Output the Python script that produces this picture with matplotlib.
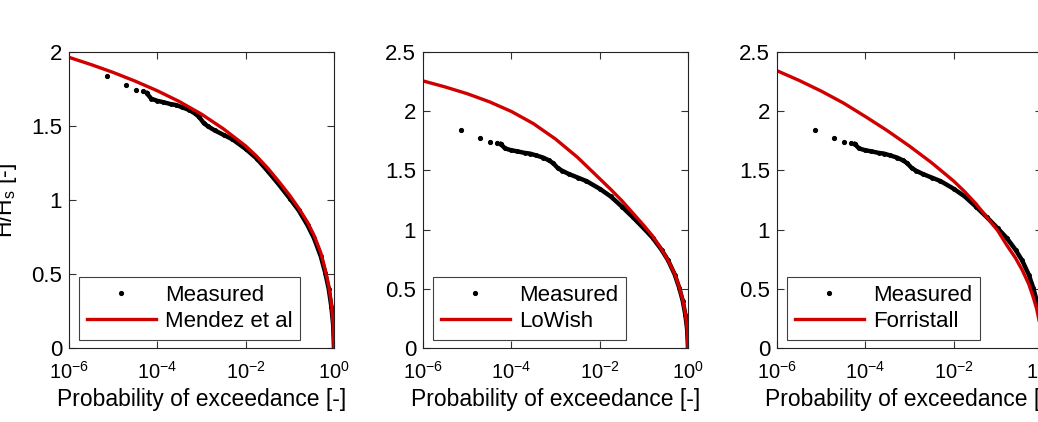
import numpy as np
import matplotlib
matplotlib.use('Agg')
import matplotlib.pyplot as plt
from matplotlib.ticker import FixedLocator, NullLocator, FuncFormatter

plt.rcParams['font.family'] = ['Liberation Sans', 'DejaVu Sans']
plt.rcParams['mathtext.fontset'] = 'custom'
plt.rcParams['mathtext.rm'] = 'Liberation Sans'
plt.rcParams['mathtext.it'] = 'Liberation Sans'

# measured wave heights (same data in every panel), x given as log10(P)
meas_logp = [-5.15, -4.70, -4.49, -4.33, -4.24,
             -4.14, -4.00, -3.88, -3.70, -3.58, -3.45, -3.28, -3.15, -3.05,
             -2.95, -2.85, -2.70, -2.50, -2.30, -2.00, -1.75, -1.50, -1.25,
             -1.00, -0.80, -0.60, -0.45, -0.30, -0.20, -0.12, -0.06, -0.02,
             0.0]
meas_h = [1.838, 1.775, 1.742, 1.735, 1.722,
          1.685, 1.670, 1.662, 1.648, 1.642, 1.628, 1.608, 1.585, 1.560,
          1.520, 1.497, 1.470, 1.440, 1.410, 1.345, 1.280, 1.195, 1.105,
          1.010, 0.930, 0.830, 0.740, 0.620, 0.510, 0.400, 0.280, 0.160,
          0.0]
n_sparse = 5

# model curves
model_logp = [-6.0, -5.5, -5.0, -4.5, -4.0, -3.5, -3.0, -2.5, -2.0, -1.75,
              -1.5, -1.25, -1.0, -0.8, -0.6, -0.45, -0.3, -0.2, -0.12,
              -0.06, -0.02, 0.0]
mendez_h = [1.964, 1.915, 1.862, 1.803, 1.738, 1.665, 1.580, 1.480, 1.365,
            1.295, 1.215, 1.125, 1.030, 0.945, 0.850, 0.760, 0.645, 0.530,
            0.420, 0.300, 0.170, 0.0]
lowish_h = [2.256, 2.205, 2.148, 2.080, 1.998, 1.895, 1.765, 1.610, 1.430,
            1.340, 1.245, 1.140, 1.035, 0.945, 0.835, 0.740, 0.625, 0.515,
            0.410, 0.290, 0.165, 0.0]
forr_h = [2.342, 2.260, 2.170, 2.070, 1.955, 1.835, 1.705, 1.565, 1.410,
          1.320, 1.220, 1.105, 0.990, 0.870, 0.760, 0.660, 0.540, 0.430,
          0.330, 0.220, 0.120, 0.0]

names = ['Mendez et al', 'LoWish', 'Forristall']
models = [mendez_h, lowish_h, forr_h]
ytops = [2.0, 2.5, 2.5]
yticks = [[0, 0.5, 1, 1.5, 2], [0, 0.5, 1, 1.5, 2, 2.5], [0, 0.5, 1, 1.5, 2, 2.5]]
xticks = [1e-6, 1e-4, 1e-2, 1e0]

meas_p = 10.0 ** np.array(meas_logp)
model_p = 10.0 ** np.array(model_logp)

red = '#d00000'

fig = plt.figure(figsize=(10.38, 4.22), dpi=100)
lefts = [69, 423, 777]

for i in range(3):
    ax = fig.add_axes([lefts[i] / 1038, 74 / 422, 265 / 1038, 296 / 422])
    ax.set_xscale('log')

    # measured: sparse tail points + dense body
    ax.plot(meas_p[:n_sparse], meas_h[:n_sparse], '.', color='k', ms=5.5,
            label='Measured')
    ax.plot(meas_p[n_sparse - 1:], meas_h[n_sparse - 1:], '-', color='k',
            lw=3.2, marker='.', ms=5)
    # model
    ax.plot(model_p, models[i], '-', color=red, lw=2.4, label=names[i])

    ax.set_xlim(1e-6, 1)
    ax.set_ylim(0, ytops[i])
    ax.xaxis.set_major_locator(FixedLocator(xticks))
    ax.xaxis.set_minor_locator(NullLocator())
    ax.xaxis.set_major_formatter(FuncFormatter(
        lambda v, pos: '$10^{%d}$' % int(round(np.log10(v)))))
    ax.yaxis.set_major_locator(FixedLocator(yticks[i]))
    ax.yaxis.set_major_formatter(FuncFormatter(lambda v, pos: '%g' % v))
    ax.tick_params(which='both', direction='in', top=True, right=True,
                   length=5, width=0.8, color='#333333')
    ax.tick_params(axis='x', pad=9, labelsize=14.5)
    ax.tick_params(axis='y', pad=5, labelsize=16)
    for s in ax.spines.values():
        s.set_linewidth(0.8)
        s.set_color('#222222')

    ax.set_xlabel('Probability of exceedance [-]', fontsize=16.5, labelpad=4)
    if i == 0:
        ax.set_ylabel('H/H$_\\mathregular{s}$ [-]', fontsize=16.5)
        ax.yaxis.set_label_coords(-0.187, 0.5)

    leg = ax.legend(loc='lower left', bbox_to_anchor=(0.038, 0.027),
                    fontsize=16, frameon=True, fancybox=False,
                    handlelength=3.1, handletextpad=0.4, borderpad=0.35,
                    labelspacing=0.25, borderaxespad=0, numpoints=1)
    leg.get_frame().set_edgecolor('#111111')
    leg.get_frame().set_linewidth(0.8)

fig.savefig('out.png', dpi=100)
